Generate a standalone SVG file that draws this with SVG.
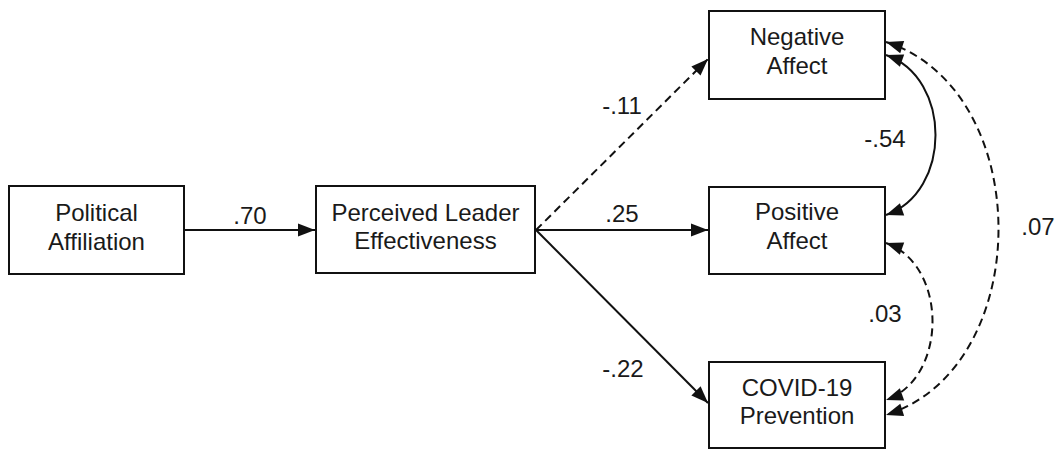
<svg xmlns="http://www.w3.org/2000/svg" width="1055" height="449" viewBox="0 0 1055 449">
<style>
.box{fill:#fff;stroke:#111;stroke-width:2}
.t{font-family:"Liberation Sans",Arial,sans-serif;font-size:24px;fill:#1a1a1a;text-anchor:middle}
.e{fill:none;stroke:#111;stroke-width:2}
.d{stroke-dasharray:8 5}
</style>
<defs>
<marker id="ah" markerUnits="userSpaceOnUse" markerWidth="18" markerHeight="13" refX="17" refY="6.5" orient="auto-start-reverse" overflow="visible">
<path d="M0,0 L17,6.5 L0,13 z" fill="#111"/>
</marker>
</defs>
<rect width="1055" height="449" fill="#fff"/>
<g id="connectors">
<path class="e" d="M185,230 L315,230" marker-end="url(#ah)"/>
<path class="e d" d="M536,230 L708,59" marker-end="url(#ah)"/>
<path class="e" d="M536,230 L708,230" marker-end="url(#ah)"/>
<path class="e" d="M536,230 L708,403" marker-end="url(#ah)"/>
<path class="e" d="M886,55 C952,78 952,192 886,215" marker-start="url(#ah)" marker-end="url(#ah)"/>
<path class="e d" d="M886,42 C1036,90 1036,368 886,415" marker-start="url(#ah)" marker-end="url(#ah)"/>
<path class="e d" d="M886,243 C948,265 948,378 886,400" marker-start="url(#ah)" marker-end="url(#ah)"/>
<text class="t" x="250" y="224">.70</text>
<text class="t" x="622" y="114">-.11</text>
<text class="t" x="622" y="222">.25</text>
<text class="t" x="623" y="377">-.22</text>
<text class="t" x="885" y="147">-.54</text>
<text class="t" x="885" y="322">.03</text>
<text class="t" x="1038" y="235">.07</text>
</g>
<g id="political">
<rect class="box" x="9" y="186" width="175" height="88"/>
<text class="t" x="96.5" y="221">Political</text>
<text class="t" x="96.5" y="250">Affiliation</text>
</g>
<g id="perceived">
<rect class="box" x="316" y="186" width="219" height="87"/>
<text class="t" x="425.5" y="221">Perceived Leader</text>
<text class="t" x="425.5" y="249">Effectiveness</text>
</g>
<g id="negative">
<rect class="box" x="709" y="11" width="176" height="88"/>
<text class="t" x="797" y="45">Negative</text>
<text class="t" x="797" y="73.5">Affect</text>
</g>
<g id="positive">
<rect class="box" x="709" y="187" width="176" height="87"/>
<text class="t" x="797" y="220">Positive</text>
<text class="t" x="797" y="249">Affect</text>
</g>
<g id="covid">
<rect class="box" x="709" y="362" width="176" height="86"/>
<text class="t" x="797" y="395.5">COVID-19</text>
<text class="t" x="797" y="424">Prevention</text>
</g>
</svg>
